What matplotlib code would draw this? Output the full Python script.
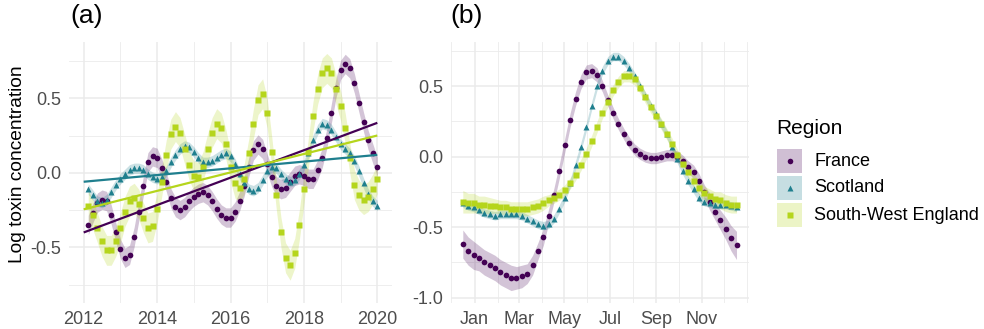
import numpy as np
import matplotlib
matplotlib.use("Agg")
import matplotlib.pyplot as plt
from matplotlib.patches import Rectangle

plt.rcParams["font.family"] = ["Liberation Sans", "DejaVu Sans"]
plt.rcParams["axes.unicode_minus"] = False

regions = ["France", "Scotland", "South-West England"]
colours = ["#440154", "#1F7F8E", "#B5D51C"]
markers = ["o", "^", "s"]
marker_sizes = [4.1, 5.0, 3.9]

# ---- panel (a): smoothed long-term series, one value every 1/8 year ----
years = 2012 + np.arange(1, 65) / 8
france_a = [-0.35, -0.27, -0.20, -0.18, -0.19, -0.28, -0.40, -0.51,
            -0.57, -0.55, -0.43, -0.26, -0.09, 0.07, 0.11, 0.10,
            0.03, -0.06, -0.17, -0.23, -0.25, -0.23, -0.19, -0.16,
            -0.14, -0.13, -0.15, -0.19, -0.24, -0.28, -0.30, -0.30,
            -0.26, -0.19, -0.09, 0.04, 0.15, 0.19, 0.16, 0.06,
            -0.03, -0.09, -0.11, -0.10, -0.06, -0.02, -0.01, -0.02,
            -0.04, -0.04, 0.02, 0.10, 0.23, 0.40, 0.57, 0.69,
            0.73, 0.70, 0.60, 0.47, 0.34, 0.22, 0.13, 0.04]
scotland_a = [-0.11, -0.15, -0.19, -0.20, -0.18, -0.13, -0.08, -0.04,
              -0.01, 0.02, 0.03, 0.03, 0.02, -0.01, -0.03, -0.04,
              -0.03, 0.01, 0.07, 0.12, 0.16, 0.18, 0.17, 0.14,
              0.10, 0.07, 0.07, 0.08, 0.10, 0.12, 0.13, 0.11,
              0.06, -0.01, -0.07, -0.11, -0.12, -0.10, -0.05, 0.01,
              0.04, 0.03, -0.01, -0.04, -0.06, -0.05, -0.01, 0.05,
              0.13, 0.22, 0.29, 0.33, 0.32, 0.29, 0.24, 0.19,
              0.16, 0.13, 0.08, 0.01, -0.07, -0.14, -0.19, -0.22]
swengland_a = [-0.22, -0.28, -0.37, -0.46, -0.52, -0.52, -0.46, -0.37,
               -0.26, -0.19, -0.17, -0.21, -0.30, -0.37, -0.36, -0.24,
               -0.06, 0.12, 0.26, 0.31, 0.27, 0.16, 0.05, -0.02,
               -0.03, 0.04, 0.16, 0.27, 0.33, 0.30, 0.19, 0.04,
               -0.07, -0.10, -0.04, 0.13, 0.33, 0.49, 0.53, 0.40,
               0.14, -0.15, -0.40, -0.57, -0.62, -0.54, -0.35, -0.11,
               0.14, 0.38, 0.56, 0.67, 0.70, 0.67, 0.56, 0.45,
               0.30, 0.10, -0.08, -0.15, -0.18, -0.16, -0.11, -0.04]
band_a = [0.065, 0.035, 0.10]
# straight-line trends: value at 2012 and at 2020
trend_years = [2012, 2020]
trend_start = [-0.40, -0.06, -0.245]
trend_end = [0.335, 0.12, 0.25]

# ---- panel (b): seasonal pattern, 52 weekly values (days from 1 Jan) ----
days = np.arange(52) * 7.18 - 15.7
france_b = [-0.62, -0.67, -0.70, -0.72, -0.75, -0.77, -0.79, -0.82, -0.84, -0.86,
            -0.86, -0.85, -0.83, -0.77, -0.67, -0.57, -0.42, -0.27, -0.10, 0.08,
            0.26, 0.41, 0.53, 0.60, 0.61, 0.58, 0.50, 0.40, 0.31, 0.23,
            0.16, 0.10, 0.05, 0.02, 0.00, -0.01, -0.01, 0.00, 0.01, 0.01,
            0.00, -0.03, -0.07, -0.11, -0.17, -0.25, -0.32, -0.39, -0.45, -0.51,
            -0.58, -0.63]
scotland_b = [-0.33, -0.35, -0.36, -0.38, -0.40, -0.41, -0.42, -0.41, -0.41, -0.41,
              -0.41, -0.42, -0.44, -0.46, -0.48, -0.49, -0.48, -0.44, -0.37, -0.29,
              -0.19, -0.06, 0.07, 0.21, 0.36, 0.50, 0.61, 0.68, 0.71, 0.71,
              0.68, 0.63, 0.57, 0.50, 0.43, 0.36, 0.30, 0.23, 0.16, 0.07,
              -0.02, -0.10, -0.17, -0.23, -0.29, -0.32, -0.33, -0.34, -0.34, -0.34,
              -0.35, -0.36]
swengland_b = [-0.32, -0.33, -0.33, -0.34, -0.34, -0.35, -0.35, -0.36, -0.36, -0.37,
               -0.37, -0.37, -0.37, -0.36, -0.35, -0.33, -0.31, -0.29, -0.27, -0.24,
               -0.19, -0.13, -0.06, 0.02, 0.11, 0.21, 0.31, 0.39, 0.47, 0.53,
               0.57, 0.57, 0.55, 0.49, 0.42, 0.35, 0.29, 0.23, 0.16, 0.09,
               0.01, -0.05, -0.11, -0.17, -0.22, -0.26, -0.28, -0.30, -0.31, -0.33,
               -0.34, -0.34]
france_band_b = [0.10, 0.10, 0.10, 0.09, 0.09, 0.09, 0.09, 0.09, 0.09, 0.09,
                 0.08, 0.08, 0.07, 0.07, 0.06, 0.06, 0.05, 0.05, 0.05, 0.05,
                 0.05, 0.05, 0.05, 0.05, 0.05, 0.05, 0.04, 0.04, 0.04, 0.04,
                 0.04, 0.04, 0.04, 0.04, 0.04, 0.04, 0.04, 0.04, 0.04, 0.04,
                 0.04, 0.04, 0.04, 0.05, 0.05, 0.05, 0.06, 0.06, 0.07, 0.08,
                 0.09, 0.10]
scotland_band_b = [0.03] * 52
swengland_band_b = [0.08, 0.07, 0.07, 0.06, 0.06, 0.06, 0.05, 0.05, 0.05, 0.05,
                    0.05, 0.05, 0.05, 0.05, 0.05, 0.05, 0.04, 0.04, 0.04, 0.04,
                    0.04, 0.04, 0.04, 0.04, 0.04, 0.04, 0.04, 0.04, 0.04, 0.04,
                    0.04, 0.04, 0.04, 0.04, 0.04, 0.04, 0.04, 0.04, 0.04, 0.04,
                    0.04, 0.04, 0.04, 0.05, 0.05, 0.05, 0.05, 0.05, 0.06, 0.06,
                    0.06, 0.06]
month_days = [0, 59, 120, 181, 243, 304]
month_labels = ["Jan", "Mar", "May", "Jul", "Sep", "Nov"]
minor_days = [-31, 31, 90, 151, 212, 273, 334, 365]

W, H = 984, 329
fig = plt.figure(figsize=(W / 100, H / 100), dpi=100)
grid_col = "#EBEBEB"
tick_col = "#4D4D4D"


def px_axes(left, top, right, bottom):
    return fig.add_axes([left / W, 1 - bottom / H, (right - left) / W, (bottom - top) / H])


def style(ax):
    for s in ax.spines.values():
        s.set_visible(False)
    ax.tick_params(which="both", length=0, labelsize=13, labelcolor=tick_col)
    ax.tick_params(axis="y", pad=5.5)
    ax.tick_params(axis="x", pad=5.5)
    ax.grid(True, which="major", color=grid_col, lw=1.1)
    ax.grid(True, which="minor", color=grid_col, lw=0.6)
    ax.set_axisbelow(True)


# panel (a)
ax = px_axes(69, 42, 392, 303)
series_a = [france_a, scotland_a, swengland_a]
for vals, c, bw in zip(series_a, colours, band_a):
    v = np.array(vals)
    ax.fill_between(years, v - bw, v + bw, color=c, alpha=0.23, lw=0, zorder=1)
for vals, c, m, ms in zip(series_a, colours, markers, marker_sizes):
    ax.plot(years, vals, ls="none", marker=m, ms=ms, color=c, mec="none", zorder=2)
for c, y0, y1 in zip(colours, trend_start, trend_end):
    ax.plot(trend_years, [y0, y1], color=c, lw=1.6, zorder=3, solid_capstyle="butt")
ax.set_xlim(2011.6, 2020.4)
ax.set_ylim(-0.873, 0.877)
ax.set_xticks([2012, 2014, 2016, 2018, 2020])
ax.set_xticks([2013, 2015, 2017, 2019], minor=True)
ax.set_yticks([-0.5, 0.0, 0.5])
ax.set_yticklabels(["-0.5", "0.0", "0.5"])
ax.set_yticks([-0.75, -0.25, 0.25, 0.75], minor=True)
style(ax)
fig.text(18 / W, 1 - 164 / H, "Log toxin concentration", fontsize=13.8,
         rotation=90, ha="center", va="center")

# panel (b)
bx = px_axes(451, 42, 748.5, 303)
series_b = [france_b, scotland_b, swengland_b]
bands_b = [france_band_b, scotland_band_b, swengland_band_b]
for vals, c, bw in zip(series_b, colours, bands_b):
    v = np.array(vals)
    b = np.array(bw)
    bx.fill_between(days, v - b, v + b, color=c, alpha=0.23, lw=0, zorder=1)
for vals, c, m, ms in zip(series_b, colours, markers, marker_sizes):
    bx.plot(days, vals, ls="none", marker=m, ms=ms, color=c, mec="none", zorder=2)
bx.set_xlim(-31.5, 366.5)
bx.set_ylim(-1.038, 0.813)
bx.set_xticks(month_days)
bx.set_xticklabels(month_labels)
bx.set_xticks(minor_days, minor=True)
bx.set_yticks([-1.0, -0.5, 0.0, 0.5])
bx.set_yticklabels(["-1.0", "-0.5", "0.0", "0.5"])
bx.set_yticks([-0.75, -0.25, 0.25, 0.75], minor=True)
style(bx)

fig.text(70 / W, 1 - 16 / H, "(a)", fontsize=19, va="center", ha="left")
fig.text(450 / W, 1 - 16 / H, "(b)", fontsize=19, va="center", ha="left")

# legend
lax = fig.add_axes([0, 0, 1, 1])
lax.set_xlim(0, W)
lax.set_ylim(H, 0)
lax.axis("off")
lax.text(776, 128, "Region", fontsize=15, va="center", ha="left")
key_centres = [161, 188, 215]
for name, c, m, yc in zip(regions, colours, markers, key_centres):
    lax.add_patch(Rectangle((777, yc - 12), 25, 24, facecolor=c, alpha=0.25, lw=0))
    lax.plot([789.5], [yc], marker=m, ms=4.0, color=c, mec="none", ls="none")
    lax.text(814, yc, name, fontsize=13, va="center", ha="left")

fig.savefig("out.png", dpi=100)
